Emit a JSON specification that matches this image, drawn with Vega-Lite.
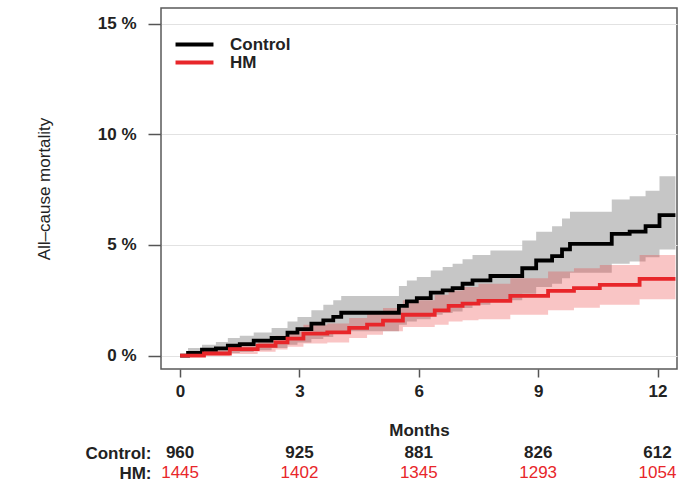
{
  "$schema": "https://vega.github.io/schema/vega-lite/v6.json",
  "autosize": {"type": "pad"},
  "padding": {"left": 34, "top": 7, "right": 0, "bottom": 0},
  "background": "white",
  "config": {
    "font": "Liberation Sans",
    "axis": {"labelFont": "Liberation Sans", "titleFont": "Liberation Sans"},
    "legend": {"labelFont": "Liberation Sans"}
  },
  "datasets": {
    "km": [
      {"group": "Control", "month": 0, "pct": 0, "lo": 0, "hi": 0},
      {"group": "Control", "month": 0.2, "pct": 0.13, "lo": 0.0, "hi": 0.35},
      {"group": "Control", "month": 0.55, "pct": 0.27, "lo": 0.04, "hi": 0.5},
      {"group": "Control", "month": 0.9, "pct": 0.33, "lo": 0.07, "hi": 0.62},
      {"group": "Control", "month": 1.2, "pct": 0.45, "lo": 0.12, "hi": 0.8},
      {"group": "Control", "month": 1.5, "pct": 0.52, "lo": 0.17, "hi": 0.9},
      {"group": "Control", "month": 1.85, "pct": 0.68, "lo": 0.25, "hi": 1.05},
      {"group": "Control", "month": 2.3, "pct": 0.8, "lo": 0.35, "hi": 1.25},
      {"group": "Control", "month": 2.7, "pct": 1.04, "lo": 0.5, "hi": 1.55},
      {"group": "Control", "month": 2.95, "pct": 1.2, "lo": 0.6, "hi": 1.75},
      {"group": "Control", "month": 3.3, "pct": 1.45, "lo": 0.75, "hi": 2.05},
      {"group": "Control", "month": 3.6, "pct": 1.6, "lo": 0.85, "hi": 2.3},
      {"group": "Control", "month": 3.85, "pct": 1.75, "lo": 0.98, "hi": 2.5},
      {"group": "Control", "month": 4.05, "pct": 1.94, "lo": 1.1, "hi": 2.7},
      {"group": "Control", "month": 5.5, "pct": 2.25, "lo": 1.4, "hi": 3.15},
      {"group": "Control", "month": 5.7, "pct": 2.45, "lo": 1.55, "hi": 3.4},
      {"group": "Control", "month": 5.95, "pct": 2.6, "lo": 1.65, "hi": 3.55},
      {"group": "Control", "month": 6.3, "pct": 2.85, "lo": 1.85, "hi": 3.85},
      {"group": "Control", "month": 6.6, "pct": 2.95, "lo": 1.93, "hi": 4.0},
      {"group": "Control", "month": 6.85, "pct": 3.05, "lo": 2.0, "hi": 4.15},
      {"group": "Control", "month": 7.1, "pct": 3.25, "lo": 2.15, "hi": 4.35},
      {"group": "Control", "month": 7.35, "pct": 3.4, "lo": 2.3, "hi": 4.55},
      {"group": "Control", "month": 7.8, "pct": 3.6, "lo": 2.5, "hi": 4.75},
      {"group": "Control", "month": 8.6, "pct": 3.95, "lo": 2.8, "hi": 5.2},
      {"group": "Control", "month": 8.95, "pct": 4.3, "lo": 3.1, "hi": 5.6},
      {"group": "Control", "month": 9.35, "pct": 4.5, "lo": 3.25, "hi": 5.85},
      {"group": "Control", "month": 9.6, "pct": 4.8, "lo": 3.5, "hi": 6.2},
      {"group": "Control", "month": 9.8, "pct": 5.05, "lo": 3.75, "hi": 6.5},
      {"group": "Control", "month": 10.85, "pct": 5.5, "lo": 4.15, "hi": 7.05},
      {"group": "Control", "month": 11.3, "pct": 5.6, "lo": 4.25, "hi": 7.2},
      {"group": "Control", "month": 11.7, "pct": 5.85, "lo": 4.45, "hi": 7.45},
      {"group": "Control", "month": 12.05, "pct": 6.35, "lo": 4.8, "hi": 8.1},
      {"group": "Control", "month": 12.45, "pct": 6.35, "lo": 4.8, "hi": 8.1},
      {"group": "HM", "month": 0, "pct": 0, "lo": 0, "hi": 0},
      {"group": "HM", "month": 0.6, "pct": 0.1, "lo": 0.0, "hi": 0.25},
      {"group": "HM", "month": 1.25, "pct": 0.3, "lo": 0.08, "hi": 0.5},
      {"group": "HM", "month": 1.95, "pct": 0.45, "lo": 0.18, "hi": 0.72},
      {"group": "HM", "month": 2.4, "pct": 0.6, "lo": 0.28, "hi": 0.9},
      {"group": "HM", "month": 2.7, "pct": 0.77, "lo": 0.4, "hi": 1.1},
      {"group": "HM", "month": 3.1, "pct": 1.0, "lo": 0.55, "hi": 1.4},
      {"group": "HM", "month": 3.7, "pct": 1.05, "lo": 0.6, "hi": 1.45},
      {"group": "HM", "month": 4.25, "pct": 1.26, "lo": 0.8, "hi": 1.7},
      {"group": "HM", "month": 4.7, "pct": 1.4, "lo": 0.95, "hi": 1.9},
      {"group": "HM", "month": 5.1, "pct": 1.58, "lo": 1.1, "hi": 2.15},
      {"group": "HM", "month": 5.6, "pct": 1.85, "lo": 1.3, "hi": 2.5},
      {"group": "HM", "month": 6.4, "pct": 2.05, "lo": 1.4, "hi": 2.75},
      {"group": "HM", "month": 6.75, "pct": 2.25, "lo": 1.55, "hi": 2.95},
      {"group": "HM", "month": 7.1, "pct": 2.35, "lo": 1.6, "hi": 3.1},
      {"group": "HM", "month": 7.5, "pct": 2.48, "lo": 1.65, "hi": 3.25},
      {"group": "HM", "month": 8.3, "pct": 2.7, "lo": 1.85, "hi": 3.5},
      {"group": "HM", "month": 9.25, "pct": 2.93, "lo": 2.05, "hi": 3.8},
      {"group": "HM", "month": 9.9, "pct": 3.05, "lo": 2.17, "hi": 3.95},
      {"group": "HM", "month": 10.55, "pct": 3.2, "lo": 2.3, "hi": 4.1},
      {"group": "HM", "month": 11.55, "pct": 3.47, "lo": 2.55, "hi": 4.55},
      {"group": "HM", "month": 12.45, "pct": 3.47, "lo": 2.55, "hi": 4.55}
    ],
    "risk": [
      {"group": "Control", "month": 0, "n": 960},
      {"group": "Control", "month": 3, "n": 925},
      {"group": "Control", "month": 6, "n": 881},
      {"group": "Control", "month": 9, "n": 826},
      {"group": "Control", "month": 12, "n": 612},
      {"group": "HM", "month": 0, "n": 1445},
      {"group": "HM", "month": 3, "n": 1402},
      {"group": "HM", "month": 6, "n": 1345},
      {"group": "HM", "month": 9, "n": 1293},
      {"group": "HM", "month": 12, "n": 1054}
    ]
  },
  "spacing": 4,
  "vconcat": [
    {
      "width": 516,
      "height": 361,
      "view": {"stroke": "#5a5a5a", "strokeWidth": 1.5},
      "data": {"name": "km"},
      "encoding": {
        "x": {
          "field": "month", "type": "quantitative",
          "scale": {"domain": [-0.48, 12.49], "nice": false, "zero": false},
          "axis": {
            "values": [0, 3, 6, 9, 12], "title": "Months", "grid": false, "domain": false,
            "tickSize": 8, "tickColor": "#555555", "tickWidth": 1.5,
            "labelFontSize": 17, "labelFontWeight": "bold", "labelColor": "#222222", "labelPadding": 6,
            "titleFontSize": 17, "titleFontWeight": "bold", "titleColor": "#222222", "titlePadding": 23
          }
        },
        "y": {
          "field": "pct", "type": "quantitative",
          "scale": {"domain": [-0.6, 15.7], "nice": false, "zero": false},
          "axis": {
            "values": [0, 5, 10, 15], "labelExpr": "datum.value + ' %'",
            "title": "All\u2013cause mortality", "domain": false,
            "grid": true, "gridColor": "#e2e2e2", "gridWidth": 1,
            "tickSize": 13, "tickColor": "#555555", "tickWidth": 1.5,
            "labelFontSize": 17, "labelFontWeight": "bold", "labelColor": "#222222", "labelPadding": 12,
            "titleFontSize": 17, "titleFontWeight": "normal", "titleColor": "#222222", "titlePadding": 44
          }
        }
      },
      "layer": [
        {
          "transform": [{"filter": "datum.group === 'Control'"}],
          "mark": {"type": "area", "interpolate": "step-after", "color": "#c6c6c6", "opacity": 1},
          "encoding": {"y": {"field": "lo", "type": "quantitative"}, "y2": {"field": "hi"}}
        },
        {
          "transform": [{"filter": "datum.group === 'HM'"}],
          "mark": {"type": "area", "interpolate": "step-after", "color": "#e83030", "opacity": 0.28},
          "encoding": {"y": {"field": "lo", "type": "quantitative"}, "y2": {"field": "hi"}}
        },
        {
          "mark": {"type": "line", "interpolate": "step-after", "strokeWidth": 3.8},
          "encoding": {
            "stroke": {
              "field": "group", "type": "nominal",
              "scale": {"domain": ["Control", "HM"], "range": ["#000000", "#e8262a"]},
              "legend": {
                "title": null, "orient": "none", "legendX": 25, "legendY": 28,
                "padding": 0, "rowPadding": 0,
                "symbolType": "M-4,0H4", "symbolSize": 90, "symbolStrokeWidth": 4,
                "labelFontSize": 17, "labelFontWeight": "bold", "labelColor": "#222222",
                "labelOffset": 27
              }
            }
          }
        }
      ]
    },
    {
      "width": 516,
      "height": 40,
      "view": {"stroke": null},
      "data": {"name": "risk"},
      "encoding": {
        "x": {
          "field": "month", "type": "quantitative",
          "scale": {"domain": [-0.48, 12.49], "nice": false, "zero": false},
          "axis": null
        },
        "y": {
          "field": "group", "type": "nominal",
          "scale": {"domain": ["Control", "HM"]},
          "axis": {
            "title": null, "domain": false, "ticks": false, "grid": false,
            "labelExpr": "datum.value + ':'", "labelFontSize": 17, "labelFontWeight": "bold",
            "labelColor": "#222222", "labelPadding": 10
          }
        },
        "text": {"field": "n", "type": "quantitative"}
      },
      "layer": [
        {
          "transform": [{"filter": "datum.group === 'Control'"}],
          "mark": {"type": "text", "fontSize": 17, "fontWeight": "bold", "color": "#222222", "baseline": "middle"}
        },
        {
          "transform": [{"filter": "datum.group === 'HM'"}],
          "mark": {"type": "text", "fontSize": 17, "fontWeight": "normal", "color": "#e8262a", "baseline": "middle"}
        }
      ]
    }
  ]
}
